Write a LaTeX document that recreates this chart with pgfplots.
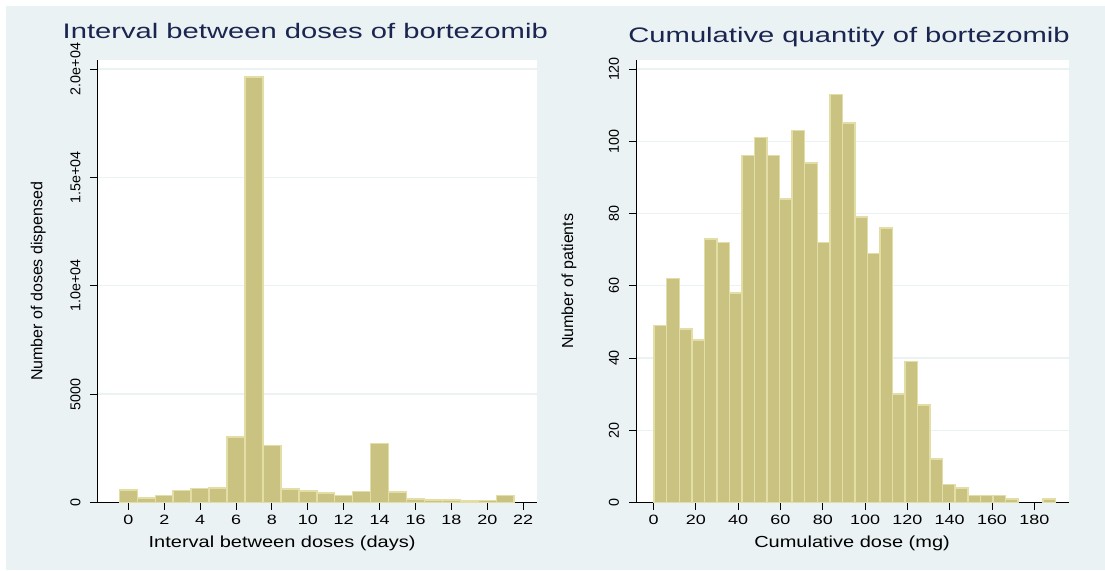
\documentclass[border=0pt]{standalone}
\usepackage{fontspec}
\setmainfont{Liberation Sans}
\newfontfamily\titlefont[FakeStretch=1.39]{Liberation Sans}
\newfontfamily\labfont[FakeStretch=1.25]{Liberation Sans}
\newfontfamily\tickfont[FakeStretch=1.33]{Liberation Sans}
\usepackage{pgfplots}
\pgfplotsset{compat=1.18}

\definecolor{stbg}{RGB}{234,242,243}
\definecolor{stbar}{RGB}{201,194,128}
\definecolor{stedge}{RGB}{226,222,166}
\definecolor{sttitle}{RGB}{26,37,80}

% Stata s2color look
\pgfplotsset{stata/.style={
  scale only axis, anchor=south west,
  axis lines=left, axis line style={-, black, line width=0.5pt},
  axis background/.style={fill=white},
  tick align=outside, major tick length=3.5pt,
  tick style={black, line width=0.5pt},
  ymajorgrids, grid style={stbg, line width=0.7pt},
  ymin=0, height=221.25pt,
  scaled y ticks=false,
  /pgf/number format/assume math mode=true,
  xticklabel style={font=\tickfont\fontsize{6.75}{8}\selectfont},
  xticklabel shift=-0.5pt,
  yticklabel style={font=\fontsize{7.15}{8}\selectfont, rotate=90, anchor=south},
  yticklabel shift=1.5pt,
  title style={font=\titlefont\fontsize{10.5}{12}\selectfont, text=sttitle, anchor=base, yshift=-6pt},
  xlabel style={font=\labfont\fontsize{8}{9.6}\selectfont, anchor=center},
  ylabel style={font=\fontsize{8}{9.6}\selectfont, anchor=center},
  bars/.style={ybar interval, fill=stbar, draw=stedge, line width=0.75pt},
}}

\begin{document}
\begin{tikzpicture}
\fill[white] (0,0) rectangle (552.5pt,285pt);
\fill[stbg] (3pt,0) rectangle (552.5pt,282pt);
\path[use as bounding box] (0,0) rectangle (552.5pt,285pt);

\begin{axis}[stata,
  at={(48.75pt,33.75pt)}, width=219.75pt,
  xmin=-1.72, xmax=22.77, ymax=20415,
  xtick={0,2,...,22},
  ytick={0,5000,10000,15000,20000},
  yticklabels={0,5000,1.0e+04,1.5e+04,2.0e+04},
  title={Interval between doses of bortezomib},
  title style={at={(axis description cs:0.4727,1.0497)}},
  xlabel={Interval between doses (days)},
  xlabel style={at={(axis description cs:0.42,-0.0915)}},
  ylabel={Number of doses dispensed},
  ylabel style={at={(axis description cs:-0.135,0.5)}},
]
\addplot[bars] coordinates {
  (-0.5,570) (0.5,215) (1.5,323) (2.5,554) (3.5,647) (4.5,662)
  (5.5,3018) (6.5,19630) (7.5,2633) (8.5,616) (9.5,524) (10.5,431)
  (11.5,323) (12.5,508) (13.5,2726) (14.5,477) (15.5,154) (16.5,123)
  (17.5,123) (18.5,77) (19.5,92) (20.5,323) (21.5,0)
};
\end{axis}

\begin{axis}[stata,
  at={(318pt,33.75pt)}, width=216.5pt,
  xmin=-8.3, xmax=196.4, ymax=122.5,
  xtick={0,20,...,180},
  ytick={0,20,...,120},
  title={Cumulative quantity of bortezomib},
  title style={at={(axis description cs:0.492,1.0407)}},
  xlabel={Cumulative dose (mg)},
  xlabel style={at={(axis description cs:0.499,-0.0915)}},
  ylabel={Number of patients},
  ylabel style={at={(axis description cs:-0.155,0.5)}},
]
\addplot[bars] coordinates {
  (0.3,49) (6.23,62) (12.16,48) (18.09,45) (24.02,73) (29.95,72)
  (35.88,58) (41.81,96) (47.74,101) (53.67,96) (59.60,84) (65.53,103)
  (71.46,94) (77.39,72) (83.32,113) (89.25,105) (95.18,79) (101.11,69)
  (107.04,76) (112.97,30) (118.90,39) (124.83,27) (130.76,12) (136.69,5)
  (142.62,4) (148.55,2) (154.48,2) (160.41,2) (166.34,1) (172.27,0)
};
\addplot[bars] coordinates {(184.13,1) (190.06,0)};
\end{axis}
\end{tikzpicture}
\end{document}
